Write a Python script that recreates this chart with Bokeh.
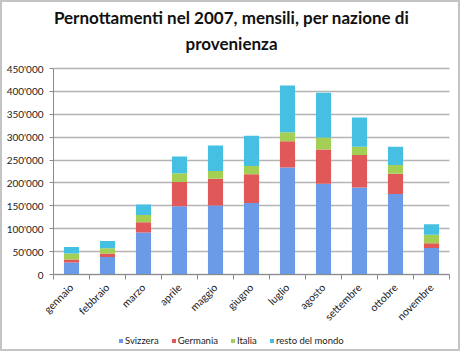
import math
from bokeh.plotting import figure
from bokeh.models import Range1d, FixedTicker, Legend, LegendItem, ColumnDataSource, Title
from bokeh.embed import file_html
from bokeh.resources import INLINE

months = ["gennaio", "febbraio", "marzo", "aprile", "maggio", "giugno",
          "luglio", "agosto", "settembre", "ottobre", "novembre"]
series = ["Svizzera", "Germania", "Italia", "resto del mondo"]
svizzera = [26000, 38000, 92000, 149000, 151000, 156000, 234000, 198000, 190000, 176000, 58000]
germania = [7000, 8000, 22000, 53000, 58000, 63000, 57000, 75000, 71000, 44000, 10000]
italia = [13000, 11500, 16000, 19000, 17000, 18000, 20000, 26000, 18000, 19000, 19000]
resto = [14000, 15500, 23000, 37000, 56000, 66000, 102000, 98000, 64000, 40000, 23000]
y_ticks = [0, 50000, 100000, 150000, 200000, 250000, 300000, 350000, 400000, 450000]
title_lines = ["Pernottamenti nel 2007, mensili, per nazione di", "provenienza"]
colors = ["#6b9be6", "#e05858", "#a4cf55", "#46c0e2"]

FONT = "Lato"
YMAX = 450000
N = len(months)
PX = 36.0          # pixels per category
PY = YMAX / 206.0  # value per pixel
# frame covers the whole canvas below the title; axes are drawn at fixed locations
X0 = -0.5 - 51 / PX
X1 = N - 0.5 + 11 / PX
Y0 = -79 * PY
Y1 = YMAX + 10 * PY

x = list(range(N))
src = ColumnDataSource(dict(x=x, Svizzera=svizzera, Germania=germania,
                            Italia=italia, resto=resto))

p = figure(width=460, height=351, output_backend="svg", toolbar_location=None,
           x_range=Range1d(X0, X1), y_range=Range1d(Y0, Y1),
           min_border_left=0, min_border_right=2, min_border_top=56,
           min_border_bottom=0)
p.styles = {"border": "2px solid #c4c4c4"}
p.outline_line_color = None
p.background_fill_color = "white"
p.border_fill_color = "white"

def style_title(t, standoff):
    t.align = "center"
    t.text_font = FONT
    t.text_font_size = "17px"
    t.text_font_style = "bold"
    t.text_color = "#111111"
    t.standoff = standoff

p.title.text = title_lines[0]
style_title(p.title, -4)
t2 = Title(text=title_lines[1])
style_title(t2, 10)
p.add_layout(t2, "above")

renderers = p.vbar_stack(["Svizzera", "Germania", "Italia", "resto"], x="x", width=0.42,
                         source=src, color=colors, line_color=None)

# x axis at y = 0
p.xaxis.fixed_location = 0
p.xaxis.bounds = (-0.5, N - 0.5)
p.xaxis.ticker = FixedTicker(ticks=x, minor_ticks=[i - 0.5 for i in range(N + 1)])
p.xaxis.major_label_overrides = {i: m for i, m in enumerate(months)}
p.xaxis.major_label_orientation = math.pi / 4
p.xaxis.major_tick_line_color = None
p.xaxis.minor_tick_out = 5
p.xaxis.minor_tick_in = 0
p.xaxis.minor_tick_line_color = "#8a8a8a"
p.xaxis.axis_line_color = "#8a8a8a"
p.xaxis.major_label_text_font = FONT
p.xaxis.major_label_text_font_size = "10.5px"
p.xaxis.major_label_text_color = "#222222"

# y axis at the first category boundary
p.yaxis.fixed_location = -0.5
p.yaxis.bounds = (0, YMAX)
p.yaxis.ticker = FixedTicker(ticks=y_ticks)
p.yaxis.major_label_overrides = {v: (f"{v:,}".replace(",", "'")) for v in y_ticks}
p.yaxis.minor_tick_line_color = None
p.yaxis.major_tick_out = 4
p.yaxis.major_tick_in = 0
p.yaxis.major_tick_line_color = "#8a8a8a"
p.yaxis.axis_line_color = "#8a8a8a"
p.yaxis.major_label_text_font = FONT
p.yaxis.major_label_text_font_size = "10px"
p.yaxis.major_label_text_color = "#222222"
p.yaxis.major_label_standoff = 6

p.xgrid.grid_line_color = None
p.ygrid.ticker = FixedTicker(ticks=y_ticks)
p.ygrid.cross_bounds = (-0.5, N - 0.5)
p.ygrid.grid_line_color = "#b4b4b4"
p.ygrid.grid_line_width = 1.5

legend = Legend(items=[LegendItem(label=s, renderers=[r]) for s, r in zip(series, renderers)],
                orientation="horizontal", location=(116, 7))
legend.label_text_font = FONT
legend.label_text_font_size = "9.5px"
legend.label_text_color = "#222222"
legend.glyph_width = 5
legend.glyph_height = 5
legend.spacing = 12
legend.label_standoff = 2
legend.padding = 2
legend.margin = 0
legend.border_line_color = None
legend.background_fill_alpha = 0
p.add_layout(legend, "center")

open("out.html", "w").write(file_html(p, INLINE))
